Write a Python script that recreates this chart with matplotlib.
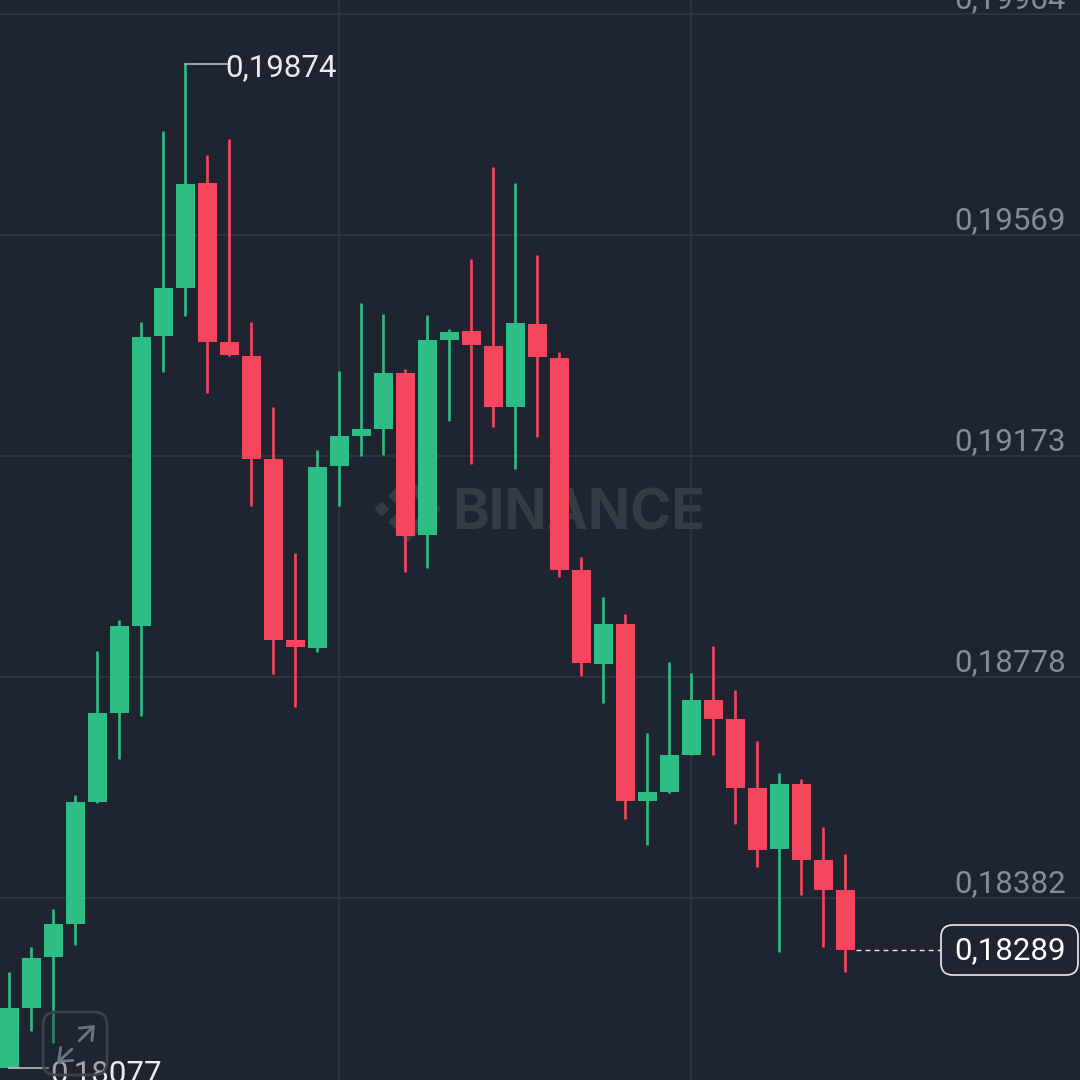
import matplotlib
matplotlib.use("Agg")
import matplotlib.pyplot as plt
from matplotlib.patches import FancyBboxPatch, FancyArrowPatch, Polygon

plt.rcParams['font.family'] = ['Roboto', 'DejaVu Sans']

opens = [0.18077, 0.18185, 0.18276, 0.18335, 0.18554, 0.18713, 0.18869, 0.19388, 0.19474, 0.19662,
         0.19377, 0.19352, 0.19168, 0.18844, 0.18829, 0.19155, 0.19209, 0.19221, 0.19322, 0.19032,
         0.19381, 0.19397, 0.19370, 0.19261, 0.19409, 0.19348, 0.18969, 0.18801, 0.18872, 0.18556,
         0.18572, 0.18638, 0.18736, 0.18702, 0.18579, 0.18470, 0.18586, 0.18450, 0.18396]
closes = [0.18185, 0.18275, 0.18335, 0.18554, 0.18713, 0.18869, 0.19386, 0.19474, 0.19660, 0.19377,
          0.19354, 0.19168, 0.18844, 0.18831, 0.19153, 0.19209, 0.19221, 0.19322, 0.19030, 0.19381,
          0.19395, 0.19372, 0.19261, 0.19411, 0.19350, 0.18969, 0.18803, 0.18872, 0.18556, 0.18572,
          0.18638, 0.18736, 0.18702, 0.18579, 0.18468, 0.18586, 0.18450, 0.18396, 0.18289]
highs = [0.18250, 0.18294, 0.18362, 0.18566, 0.18824, 0.18880, 0.19413, 0.19755, 0.19874, 0.19712,
         0.19740, 0.19413, 0.19261, 0.18999, 0.19184, 0.19325, 0.19447, 0.19427, 0.19329, 0.19425,
         0.19400, 0.19526, 0.19690, 0.19662, 0.19533, 0.19359, 0.18992, 0.18921, 0.18890, 0.18677,
         0.18804, 0.18785, 0.18833, 0.18754, 0.18663, 0.18606, 0.18595, 0.18509, 0.18461]
lows = [0.18077, 0.18144, 0.18123, 0.18298, 0.18552, 0.18631, 0.18708, 0.19323, 0.19424, 0.19286,
        0.19352, 0.19084, 0.18783, 0.18724, 0.18822, 0.19084, 0.19173, 0.19175, 0.18965, 0.18973,
        0.19236, 0.19159, 0.19225, 0.19150, 0.19207, 0.18956, 0.18779, 0.18731, 0.18523, 0.18477,
        0.18570, 0.18638, 0.18638, 0.18514, 0.18437, 0.18285, 0.18387, 0.18294, 0.18250]

price_ticks = [0.19964, 0.19569, 0.19173, 0.18778, 0.18382]
price_labels = ['0,19964', '0,19569', '0,19173', '0,18778', '0,18382']
time_ticks = [15, 31]

BG = '#1f2530'
GREEN = '#2ebd85'
RED = '#f6465d'
GRID = '#323842'
MARK = '#363c46'
FS = 22.5

fig = plt.figure(figsize=(10.8, 10.8), dpi=100, facecolor=BG)
ax = fig.add_axes([0, 0, 1, 1], facecolor=BG)
ax.set_xlim(-9.3 / 22, 1070.7 / 22)
ax.set_ylim(0.18056, 0.19989)
ax.axis('off')

# overlay in pixel coords for the bits that aren't data
px = fig.add_axes([0, 0, 1, 1], facecolor='none')
px.set_xlim(0, 1080)
px.set_ylim(1080, 0)
px.axis('off')

ax.hlines(price_ticks, -1, 60, color=GRID, lw=1.1, zorder=1)
ax.vlines(time_ticks, 0.17, 0.21, color=GRID, lw=1.1, zorder=1)

# watermark, sits behind the candles
ax.text(579, 514, 'BINANCE', transform=px.transData, color=MARK, fontsize=40,
        family='Inter', fontweight='bold', ha='center', va='center', zorder=2)
logo = [
    [(374.5, 509), (382, 501.5), (389.5, 509), (382, 516.5)],
    [(426, 509), (433.5, 501.5), (441, 509), (433.5, 516.5)],
    [(400.5, 509), (408, 501.5), (415.5, 509), (408, 516.5)],
    [(388, 496), (408, 476), (428, 496), (421, 503), (408, 490), (395, 503)],
    [(388, 522), (408, 542), (428, 522), (421, 515), (408, 528), (395, 515)],
]
for pts in logo:
    ax.add_patch(Polygon(pts, closed=True, fc=MARK, ec='none', transform=px.transData, zorder=2))

colors = [GREEN if c >= o else RED for o, c in zip(opens, closes)]
xs = list(range(len(opens)))
ax.vlines(xs, lows, highs, colors=colors, lw=1.9, zorder=3)
bottoms = [min(o, c) for o, c in zip(opens, closes)]
heights = [abs(o - c) for o, c in zip(opens, closes)]
ax.bar(xs, heights, bottom=bottoms, width=0.88, color=colors, zorder=4, lw=0)

# price scale labels
for p, lab in zip(price_ticks, price_labels):
    ax.annotate(lab, (1066 / 22 - 9.3 / 22, p), xytext=(0, 14), textcoords='offset pixels',
                color='#858c97', fontsize=FS, ha='right', va='center', zorder=5)

# high / low markers
ax.plot([8, 9.9], [highs[8], highs[8]], color='#b7bbc1', lw=1.2, zorder=5)
ax.annotate('0,19874', (10, highs[8]), xytext=(-4, -3), textcoords='offset pixels',
            color='#eaecef', fontsize=FS, ha='left', va='center', zorder=5)
ax.plot([0, 1.75], [lows[0], lows[0]], color='#b7bbc1', lw=1.2, zorder=5)
ax.annotate('0,18077', (1.9, lows[0]), xytext=(-1, -5), textcoords='offset pixels',
            color='#eaecef', fontsize=FS, ha='left', va='center', zorder=5)

# last price
ax.plot([38.5, 42.4], [closes[-1], closes[-1]], color='#eaecef', lw=1, ls=(0, (3.5, 3)), zorder=5)
px.add_patch(FancyBboxPatch((951, 935), 117, 30, boxstyle='round,pad=10,rounding_size=12',
                            fc=BG, ec='#eaecef', lw=1.2))
px.text(1066, 951, '0,18289', color='#ffffff', fontsize=FS, ha='right', va='center')

# fullscreen button
px.add_patch(FancyBboxPatch((53, 1022), 44, 43, boxstyle='round,pad=10,rounding_size=13',
                            fc=(0.12, 0.15, 0.19, 0.35), ec='#3c424c', lw=2))
for a, b in [((79, 1041), (95, 1025)), ((72, 1049), (57, 1063))]:
    px.add_patch(FancyArrowPatch(a, b, arrowstyle='->,head_length=5,head_width=4',
                                 color='#6e747e', lw=2, mutation_scale=1.6,
                                 shrinkA=0, shrinkB=0))

fig.savefig('out.png', dpi=100, facecolor=BG)
